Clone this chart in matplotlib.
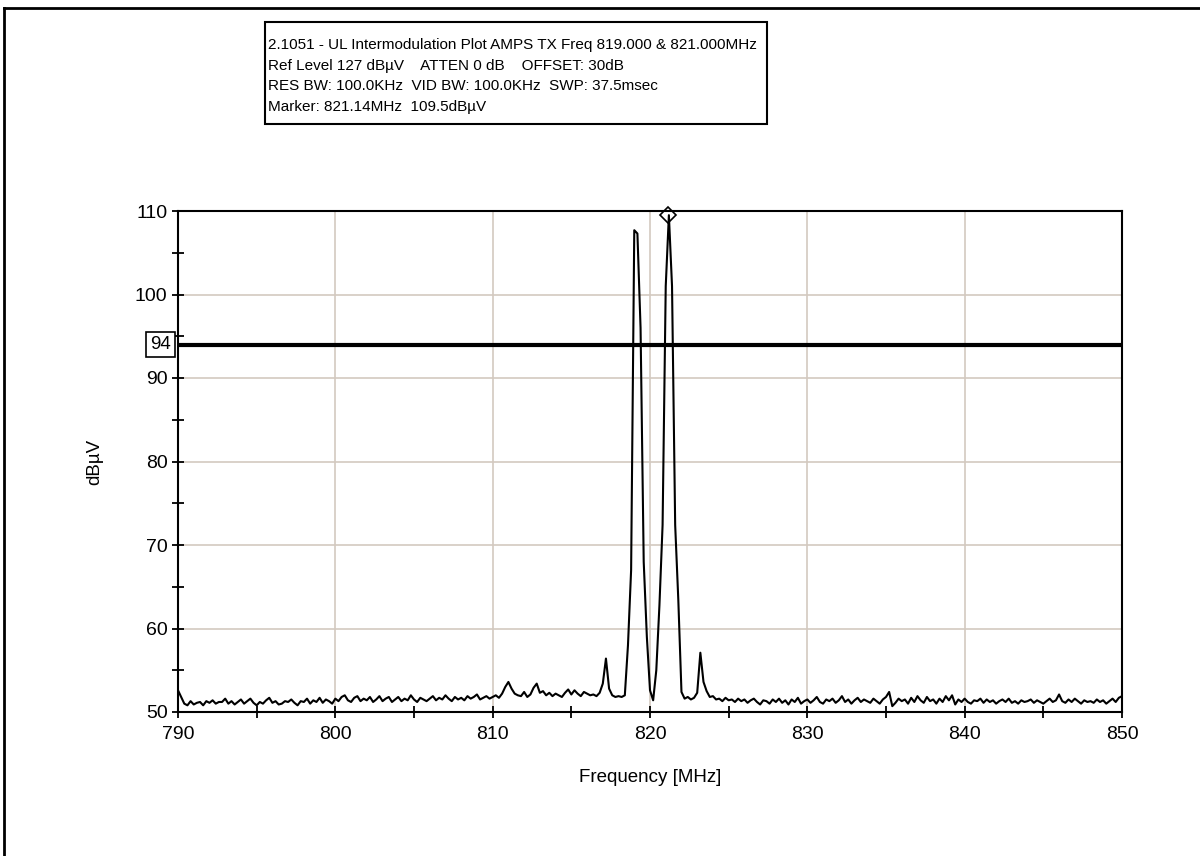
import numpy as np
import matplotlib.pyplot as plt
from matplotlib.lines import Line2D
from matplotlib.patches import Rectangle
from matplotlib.ticker import MultipleLocator

plt.rcParams['font.family'] = ['Liberation Sans', 'DejaVu Sans']

# Barrido del analizador: 790 a 850 MHz, paso 0.2 MHz
freq_inicio, freq_fin, paso = 790.0, 850.0, 0.2
frecuencias = np.arange(freq_inicio, freq_fin + paso / 2, paso)

niveles = [
    52.6, 51.8, 51.0, 50.8, 51.3, 50.9, 51.1, 51.2, 50.8, 51.3,   # 790
    51.1, 51.4, 51.0, 51.2, 51.2, 51.6, 51.0, 51.3, 50.9, 51.2,   # 792
    51.5, 51.0, 51.3, 51.6, 51.1, 50.8, 51.2, 51.0, 51.4, 51.7,   # 794
    51.1, 51.3, 50.9, 51.0, 51.3, 51.2, 51.5, 51.1, 50.8, 51.3,   # 796
    51.2, 51.6, 51.0, 51.4, 51.2, 51.7, 51.1, 51.5, 51.3, 51.0,   # 798
    51.6, 51.3, 51.8, 52.0, 51.4, 51.2, 51.7, 51.9, 51.3, 51.6,   # 800
    51.4, 51.8, 51.2, 51.5, 51.9, 51.3, 51.6, 51.8, 51.2, 51.5,   # 802
    51.8, 51.3, 51.6, 51.4, 52.0, 51.5, 51.2, 51.7, 51.5, 51.3,   # 804
    51.6, 51.9, 51.4, 51.7, 51.5, 52.0, 51.6, 51.3, 51.8, 51.5,   # 806
    51.7, 51.4, 51.9, 51.6, 51.8, 52.1, 51.5, 51.7, 51.9, 51.6,   # 808
    51.8, 52.0, 51.7, 52.2, 53.0, 53.6, 52.8, 52.2, 52.0, 51.9,   # 810
    52.4, 51.8, 52.1, 52.9, 53.4, 52.3, 52.5, 52.0, 52.3, 51.9,   # 812
    52.2, 52.0, 51.8, 52.3, 52.7, 52.1, 52.6, 52.2, 51.9, 52.4,   # 814
    52.2, 52.0, 52.1, 51.9, 52.3, 53.4, 56.4, 52.8, 52.0, 51.8,   # 816
    51.9, 51.8, 52.0, 58.0, 67.0, 107.7, 107.3, 96.0, 68.0, 59.0,  # 818
    52.6, 51.4, 55.0, 62.8, 72.4, 101.0, 109.5, 101.0, 72.4, 63.4,  # 820
    52.4, 51.6, 51.8, 51.5, 51.7, 52.3, 57.1, 53.6, 52.5, 51.8,   # 822
    51.9, 51.5, 51.6, 51.3, 51.7, 51.4, 51.5, 51.2, 51.6, 51.3,   # 824
    51.5, 51.1, 51.4, 51.6, 51.2, 50.9, 51.4, 51.3, 51.0, 51.5,   # 826
    51.2, 51.6, 51.1, 51.4, 50.9, 51.5, 51.2, 51.7, 51.0, 51.3,   # 828
    51.5, 51.1, 51.4, 51.8, 51.2, 51.0, 51.5, 51.3, 51.6, 51.1,   # 830
    51.4, 51.9, 51.2, 51.5, 51.0, 51.4, 51.7, 51.2, 51.5, 51.3,   # 832
    51.1, 51.6, 51.3, 51.0, 51.5, 51.8, 52.4, 50.7, 51.1, 51.6,   # 834
    51.3, 51.5, 51.0, 51.7, 51.2, 51.9, 51.4, 51.1, 51.8, 51.3,   # 836
    51.5, 51.0, 51.6, 51.2, 51.9, 51.4, 52.0, 50.9, 51.5, 51.2,   # 838
    51.6, 51.2, 51.0, 51.4, 51.3, 51.6, 51.1, 51.5, 51.2, 51.4,   # 840
    51.0, 51.3, 51.5, 51.2, 51.6, 51.1, 51.3, 51.0, 51.4, 51.2,   # 842
    51.3, 51.5, 51.1, 51.4, 51.2, 51.0, 51.3, 51.6, 51.2, 51.4,   # 844
    52.1, 51.3, 51.1, 51.5, 51.2, 51.6, 51.3, 51.0, 51.4, 51.2,   # 846
    51.3, 51.1, 51.5, 51.2, 51.4, 51.0, 51.3, 51.6, 51.2, 51.7,   # 848
    51.9,                                                          # 850
]

# Marcador, linea limite y textos de cabecera
marcador_freq, marcador_nivel = 821.14, 109.5
limite = 94
cabecera = [
    "2.1051 - UL Intermodulation Plot AMPS TX Freq 819.000 & 821.000MHz",
    "Ref Level 127 dB\u00b5V    ATTEN 0 dB    OFFSET: 30dB",
    "RES BW: 100.0KHz  VID BW: 100.0KHz  SWP: 37.5msec",
    "Marker: 821.14MHz  109.5dB\u00b5V",
]

fig = plt.figure(figsize=(12, 8.56), dpi=100)
ax = fig.add_axes([178 / 1200, 1 - 712 / 856, 944 / 1200, 501 / 856])

# Rejilla
ax.grid(True, which='major', color='#d3c9c0', linewidth=1.2)
ax.set_axisbelow(True)

# Traza
ax.plot(frecuencias, niveles, color='black', linewidth=1.5)

# Linea limite con su etiqueta enmarcada
ax.axhline(limite, color='black', linewidth=3)
ax.annotate(str(limite), xy=(0, limite), xycoords=('axes fraction', 'data'),
            xytext=(-12.5, 0), textcoords='offset points', ha='center', va='center',
            fontsize=13.5, annotation_clip=False,
            bbox=dict(boxstyle='square,pad=0.22', fc='white', ec='black', lw=1.2))

# Marcador
ax.plot([marcador_freq], [marcador_nivel], marker='D', markersize=8, mfc='none',
        mec='black', mew=1.2, clip_on=False, zorder=5)

ax.set_xlim(790, 850)
ax.set_ylim(50, 110)
ax.xaxis.set_major_locator(MultipleLocator(10))
ax.xaxis.set_minor_locator(MultipleLocator(5))
ax.yaxis.set_major_locator(MultipleLocator(10))
ax.yaxis.set_minor_locator(MultipleLocator(5))
ax.tick_params(which='both', direction='inout', length=8, width=1.3, labelsize=14)
ax.tick_params(axis='x', pad=6)
for lado in ax.spines.values():
    lado.set_linewidth(1.5)
    lado.set_color('black')

ax.set_xlabel('Frequency [MHz]', fontsize=13.5, va='center')
ax.xaxis.set_label_coords(0.5, -(778 - 712) / 501)
ax.set_ylabel('dB\u00b5V', fontsize=13.5, va='center')
ax.yaxis.set_label_coords(-(178 - 95) / 944, 0.5)

# Cuadro de cabecera
fig.text(268 / 1200, 1 - 38 / 856, "\n".join(cabecera), ha='left', va='top',
         fontsize=11.0, linespacing=1.6)
fig.add_artist(Rectangle((265 / 1200, 1 - 124 / 856), 502 / 1200, 102 / 856,
                         transform=fig.transFigure, fill=False, ec='black', lw=1.5))

# Marco exterior
fig.add_artist(Line2D([4 / 1200, 4 / 1200], [0, 1 - 8 / 856], color='black', lw=2))
fig.add_artist(Line2D([4 / 1200, 1], [1 - 8 / 856, 1 - 8 / 856], color='black', lw=2))

fig.savefig('out.png', dpi=100)
